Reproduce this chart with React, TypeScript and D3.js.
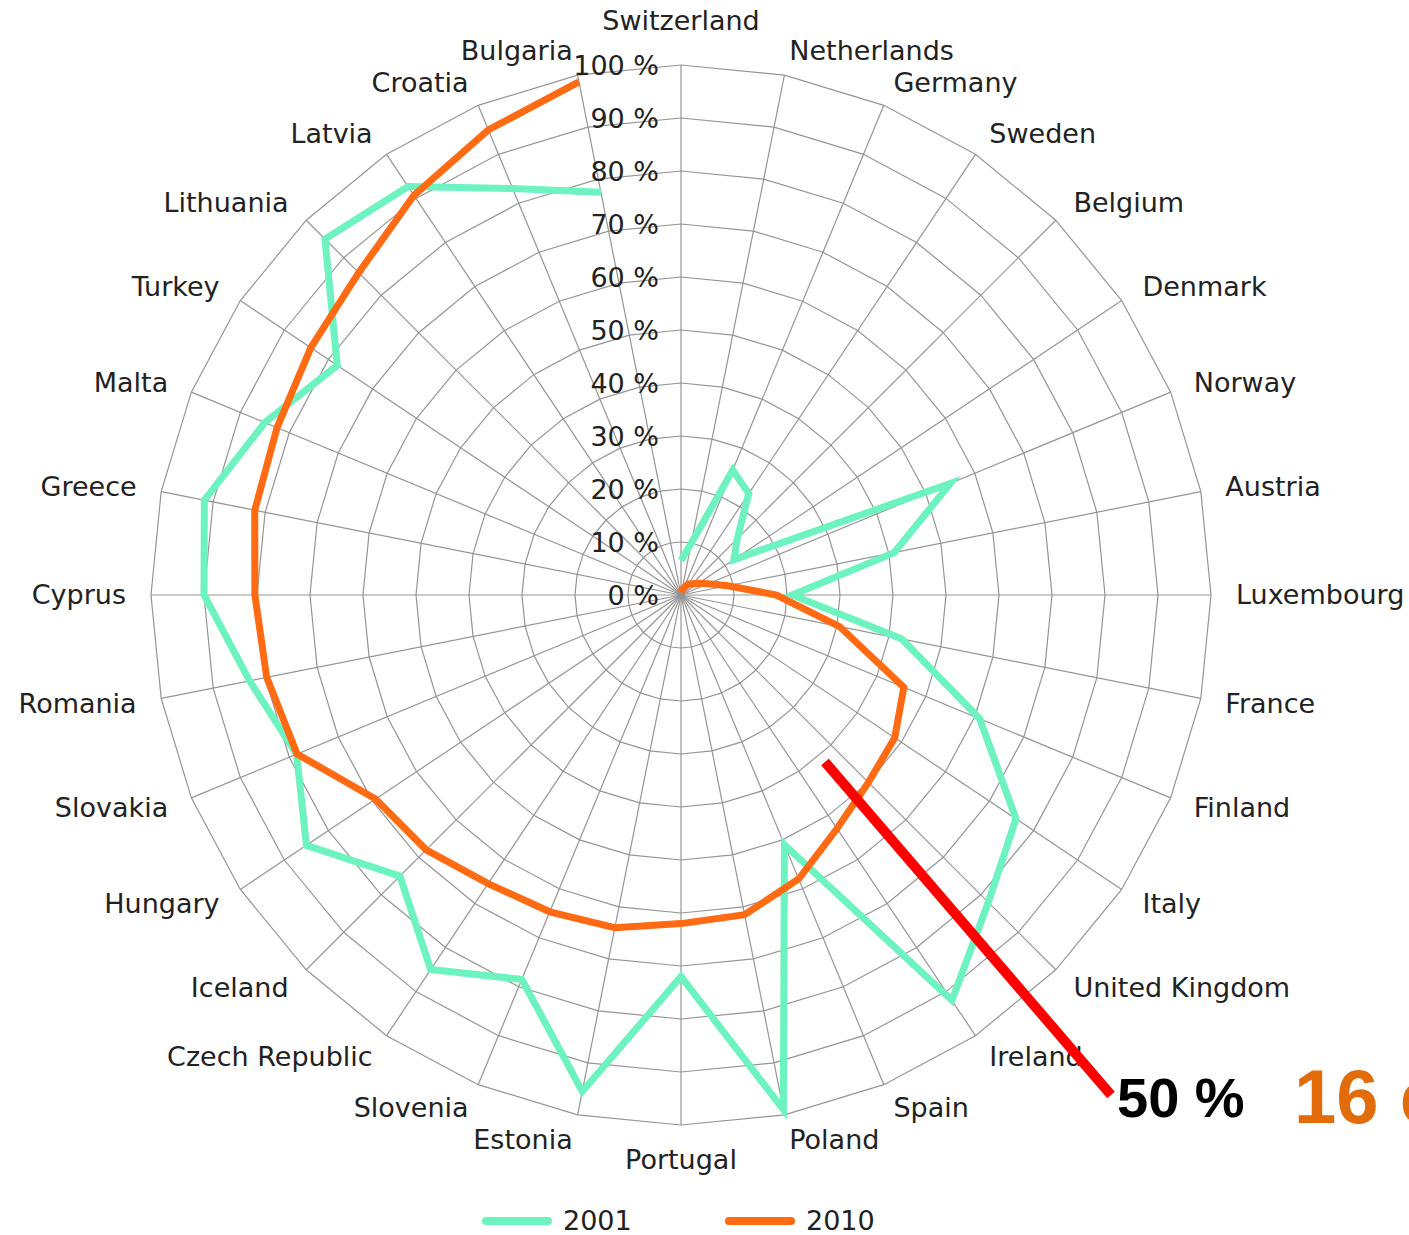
import { useEffect, useRef } from "react";
import * as d3 from "d3";

const COUNTRIES = [
  "Switzerland", "Netherlands", "Germany", "Sweden", "Belgium", "Denmark",
  "Norway", "Austria", "Luxembourg", "France", "Finland", "Italy",
  "United Kingdom", "Ireland", "Spain", "Poland", "Portugal", "Estonia",
  "Slovenia", "Czech Republic", "Iceland", "Hungary", "Slovakia", "Romania",
  "Cyprus", "Greece", "Malta", "Turkey", "Lithuania", "Latvia", "Croatia",
  "Bulgaria",
];

const VALUES_2001 = [
  6.5, 10, 25.5, 23, 15, 12, 55, 41, 21, 42.5, 61, 76,
  82, 92, 51, 99, 72, 95.5, 78.5, 85, 75, 85, 78.5, 83,
  90, 91.7, 85, 78, 95, 92.7, 83, 77.5,
];

const VALUES_2010 = [
  0.5, 1, 1.5, 2.5, 3, 4, 5.5, 9, 18, 30.5, 45.5, 48.5,
  50, 53, 58, 61.5, 62, 64, 64.7, 65.5, 68, 69.3, 78.4, 79.7,
  80.4, 82, 82.5, 84, 86, 90.7, 95, 98.7,
];

const TICKS = [0, 10, 20, 30, 40, 50, 60, 70, 80, 90, 100];

const SERIES = [
  { name: "2001", values: VALUES_2001, color: "#6cf3bf" },
  { name: "2010", values: VALUES_2010, color: "#ff6a12" },
];

const W = 1409, H = 1235;
const FONT = "'DejaVu Sans', Verdana, sans-serif";
const FS = 27;

export default function App() {
  const svgRef = useRef<SVGSVGElement>(null);

  useEffect(() => {
    if (!svgRef.current) return;
    const svg = d3.select(svgRef.current);
    svg.selectAll("*").remove();

    const cx = 681, cy = 595, R = 530;
    const r = d3.scaleLinear().domain([0, 100]).range([0, R]);
    const angle = d3.scaleLinear().domain([0, COUNTRIES.length]).range([0, 2 * Math.PI]);
    const pt = (i: number, rad: number): [number, number] => [
      cx + rad * Math.sin(angle(i)),
      cy - rad * Math.cos(angle(i)),
    ];

    const g = svg.append("g");

    // --- grid rings (polygons) ---
    TICKS.filter((t) => t > 0).forEach((t) => {
      const pts = COUNTRIES.map((_, i) => pt(i, r(t)));
      g.append("polygon")
        .attr("points", pts.map((p) => p.join(",")).join(" "))
        .attr("fill", "none")
        .attr("stroke", "#959595")
        .attr("stroke-width", 1.2);
    });

    // --- spokes ---
    COUNTRIES.forEach((_, i) => {
      const [x, y] = pt(i, r(100));
      g.append("line")
        .attr("x1", cx).attr("y1", cy)
        .attr("x2", x).attr("y2", y)
        .attr("stroke", "#959595")
        .attr("stroke-width", 1.2);
    });

    // --- tick labels ---
    TICKS.forEach((t) => {
      g.append("text")
        .attr("x", cx - 22)
        .attr("y", cy - r(t) + 1)
        .attr("dy", "0.35em")
        .attr("text-anchor", "end")
        .attr("font-family", FONT)
        .attr("font-size", FS)
        .attr("fill", "#222")
        .text(`${t} %`);
    });

    // --- country labels ---
    const labelR = 555;
    COUNTRIES.forEach((c, i) => {
      const [x, y] = pt(i, labelR);
      const s = Math.sin(angle(i));
      const co = Math.cos(angle(i));
      const t = g.append("text")
        .attr("font-family", FONT)
        .attr("font-size", FS)
        .attr("fill", "#222")
        .text(c);
      if (Math.abs(s) < 0.01) {
        t.attr("x", x).attr("text-anchor", "middle")
          .attr("y", co > 0 ? y - 10 : y + 19);
      } else {
        t.attr("x", x).attr("y", y).attr("dy", "0.35em")
          .attr("text-anchor", s > 0 ? "start" : "end");
      }
    });

    // --- series ---
    const line = d3.lineRadial<number>()
      .angle((_, i) => angle(i))
      .radius((d) => r(d))
      .curve(d3.curveLinear);

    SERIES.forEach((s) => {
      g.append("path")
        .attr("transform", `translate(${cx},${cy})`)
        .attr("d", line(s.values))
        .attr("fill", "none")
        .attr("stroke", s.color)
        .attr("stroke-width", 7)
        .attr("stroke-linejoin", "miter")
        .attr("stroke-linecap", "butt");
    });

    // --- legend ---
    const legend = g.append("g").attr("transform", "translate(0,1221)");
    [482, 725].forEach((lx, k) => {
      legend.append("line")
        .attr("x1", lx + 4).attr("x2", lx + 66)
        .attr("y1", 0).attr("y2", 0)
        .attr("stroke", SERIES[k].color)
        .attr("stroke-width", 8)
        .attr("stroke-linecap", "round");
      legend.append("text")
        .attr("x", lx + 81).attr("y", 0).attr("dy", "0.35em")
        .attr("font-family", FONT)
        .attr("font-size", FS)
        .attr("fill", "#222")
        .text(SERIES[k].name);
    });

    // --- annotation ---
    g.append("line")
      .attr("x1", 825).attr("y1", 762)
      .attr("x2", 1111).attr("y2", 1095)
      .attr("stroke", "#ff0000")
      .attr("stroke-width", 10);
    g.append("text")
      .attr("x", 1117).attr("y", 1117)
      .attr("font-family", "'Liberation Sans', Arial, sans-serif")
      .attr("font-weight", "bold")
      .attr("font-size", 56)
      .attr("fill", "#000")
      .text("50 %");
    g.append("text")
      .attr("x", 1294).attr("y", 1123)
      .attr("font-family", "'Liberation Sans', Arial, sans-serif")
      .attr("font-weight", "bold")
      .attr("font-size", 76)
      .attr("fill", "#e36c0a")
      .text("16 countries");
  }, []);

  return (
    <svg
      ref={svgRef}
      width={W}
      height={H}
      style={{ position: "absolute", left: 0, top: 0, display: "block", background: "#fff" }}
    />
  );
}
